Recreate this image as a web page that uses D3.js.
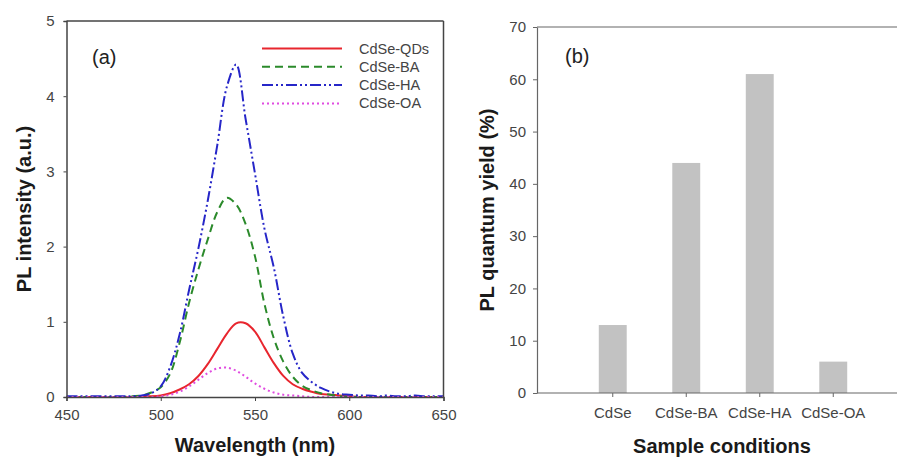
<!DOCTYPE html>
<html>
<head>
<meta charset="utf-8">
<script src="https://cdn.jsdelivr.net/npm/d3@7"></script>
<style>
body{margin:0;background:#fff;}
svg{display:block;font-family:"Liberation Sans",Arial,sans-serif;}
</style>
</head>
<body>
<svg width="897" height="458"></svg>
<script>
// panel (a) data
var wavelength=[450,455,460,465,470,475,480,485,490,495,500,505,510,515,520,525,530,535,540,545,550,555,560,565,570,575,580,585,590,595,600,605,610,615,620,625,630,635,640,645,650];
var qds=[0,0,0,0,0,0,0,0,0.01,0.01,0.02,0.05,0.10,0.17,0.28,0.44,0.64,0.84,0.98,0.98,0.87,0.66,0.45,0.28,0.17,0.11,0.07,0.04,0.03,0.02,0.01,0,0,0,0,0,0,0,0,0,0];
var ba=[0,0,0,0,0,0,0,0.01,0.02,0.06,0.13,0.31,0.72,1.25,1.70,2.10,2.46,2.65,2.56,2.30,1.87,1.24,0.78,0.47,0.27,0.15,0.09,0.05,0.03,0.01,0,0,0,0,0,0,0,0,0,0,0];
var ha=[0.01,0.01,0.01,0.01,0.01,0.01,0.01,0.01,0.02,0.05,0.14,0.40,0.83,1.42,1.98,2.62,3.35,4.12,4.42,3.70,2.97,2.24,1.72,1.07,0.58,0.32,0.20,0.12,0.07,0.04,0.03,0.02,0.02,0.01,0.02,0.01,0.01,0.02,0.01,0.01,0.01];
var oa=[0,0,0,0,0,0,0,0,0,0,0.01,0.03,0.07,0.14,0.23,0.32,0.38,0.39,0.35,0.27,0.18,0.11,0.06,0.03,0.02,0.01,0,0,0,0,0,0,0,0,0,0,0,0,0,0,0];
var seriesNames=['CdSe-QDs','CdSe-BA','CdSe-HA','CdSe-OA'];
var xTicksA=[450,500,550,600,650];
var yTicksA=[0,1,2,3,4,5];

// panel (b) data
var samples=['CdSe','CdSe-BA','CdSe-HA','CdSe-OA'];
var qy=[13,44,61,6];
var yTicksB=[0,10,20,30,40,50,60,70];

var svg=d3.select('svg');
var axisCol='#444', labCol='#444';

// ---------- panel (a)
var xa=d3.scaleLinear().domain([450,650]).range([66.5,443.5]);
var ya=d3.scaleLinear().domain([0,5]).range([397,21]);
var ga=svg.append('g');

ga.append('clipPath').attr('id','clipA').append('rect')
  .attr('x',xa(450)).attr('y',ya(5)).attr('width',xa(650)-xa(450)).attr('height',ya(0)-ya(5));

var styles=[
  {col:'#e8262e',dash:null},
  {col:'#2b8a2b',dash:'8,5'},
  {col:'#2626c8',dash:'11,3,2,3,2,3'},
  {col:'#e04ce0',dash:'2,3'}
];
var allSeries=[qds,ba,ha,oa];
var line=d3.line().x(function(d,i){return xa(wavelength[i]);}).y(function(d){return ya(Math.max(0,d));}).curve(d3.curveCatmullRom.alpha(0.5));

allSeries.forEach(function(s,k){
  ga.append('path').attr('d',line(s)).attr('fill','none')
    .attr('stroke',styles[k].col).attr('stroke-width',2)
    .attr('stroke-dasharray',styles[k].dash).attr('clip-path','url(#clipA)');
});

var axA=ga.append('g').attr('transform','translate(0,'+ya(0)+')')
  .call(d3.axisBottom(xa).tickValues(xTicksA).tickSize(4).tickPadding(8).tickFormat(d3.format('d')));
var ayA=ga.append('g').attr('transform','translate('+xa(450)+',0)')
  .call(d3.axisLeft(ya).tickValues(yTicksA).tickSize(3).tickPadding(9).tickFormat(d3.format('d')));
ga.append('line').attr('x1',xa(450)).attr('x2',xa(650)).attr('y1',ya(5)).attr('y2',ya(5)).attr('stroke',axisCol).attr('stroke-width',1.5);
ga.append('line').attr('x1',xa(650)).attr('x2',xa(650)).attr('y1',ya(5)).attr('y2',ya(0)).attr('stroke',axisCol).attr('stroke-width',1.5);

[axA,ayA].forEach(function(a){
  a.select('.domain').attr('stroke',axisCol).attr('stroke-width',1.5);
  a.selectAll('.tick line').attr('stroke',axisCol);
  a.selectAll('text').attr('fill',labCol).attr('font-size',15).attr('font-family','Liberation Sans, Arial, sans-serif');
});

ga.append('text').attr('x',92).attr('y',64).attr('font-size',20).attr('fill','#222').text('(a)');

// legend
seriesNames.forEach(function(n,k){
  var yy=48.5+k*18.3;
  ga.append('line').attr('x1',262).attr('x2',342).attr('y1',yy).attr('y2',yy)
    .attr('stroke',styles[k].col).attr('stroke-width',2).attr('stroke-dasharray',styles[k].dash);
  ga.append('text').attr('x',359).attr('y',yy+5).attr('font-size',14.5).attr('fill',labCol).text(n);
});

ga.append('text').attr('x',(xa(450)+xa(650))/2).attr('y',452).attr('text-anchor','middle')
  .attr('font-size',20).attr('font-weight','bold').attr('fill','#1a1a1a').text('Wavelength (nm)');
ga.append('text').attr('transform','translate(31,'+((ya(0)+ya(5))/2)+') rotate(-90)').attr('text-anchor','middle')
  .attr('font-size',20).attr('font-weight','bold').attr('fill','#1a1a1a').text('PL intensity (a.u.)');

// ---------- panel (b)
var xb=d3.scaleBand().domain(samples).range([576,870]);
var yb=d3.scaleLinear().domain([0,70]).range([393,27]);
var gb=svg.append('g');
var barW=xb.step()*0.38;

gb.selectAll('rect.bar').data(qy).enter().append('rect').attr('class','bar')
  .attr('x',function(d,i){return xb(samples[i])+xb.bandwidth()/2-barW/2;})
  .attr('y',function(d){return yb(d);})
  .attr('width',barW)
  .attr('height',function(d){return yb(0)-yb(d);})
  .attr('fill','#c2c2c2');

var axB=gb.append('g').attr('transform','translate(0,'+yb(0)+')')
  .call(d3.axisBottom(xb).tickSize(4).tickPadding(10).tickSizeOuter(0));
axB.select('.domain').remove();
gb.append('line').attr('x1',537).attr('x2',897).attr('y1',yb(0)).attr('y2',yb(0)).attr('stroke','#666').attr('stroke-width',1.2);
gb.append('line').attr('x1',537).attr('x2',897).attr('y1',yb(70)).attr('y2',yb(70)).attr('stroke','#666').attr('stroke-width',1.2);
var ayB=gb.append('g').attr('transform','translate(537,0)')
  .call(d3.axisLeft(yb).tickValues(yTicksB).tickSize(4).tickPadding(7).tickSizeOuter(0));
[axB,ayB].forEach(function(a){
  a.select('.domain').attr('stroke','#666').attr('stroke-width',1.2);
  a.selectAll('.tick line').attr('stroke','#666');
  a.selectAll('text').attr('fill',labCol).attr('font-size',15).attr('font-family','Liberation Sans, Arial, sans-serif');
});

gb.append('text').attr('x',565).attr('y',63).attr('font-size',20).attr('fill','#222').text('(b)');
gb.append('text').attr('x',722).attr('y',453).attr('text-anchor','middle')
  .attr('font-size',20).attr('font-weight','bold').attr('fill','#1a1a1a').text('Sample conditions');
gb.append('text').attr('transform','translate(494,'+((yb(0)+yb(70))/2)+') rotate(-90)').attr('text-anchor','middle')
  .attr('font-size',20).attr('font-weight','bold').attr('fill','#1a1a1a').text('PL quantum yield (%)');
</script>
</body>
</html>
